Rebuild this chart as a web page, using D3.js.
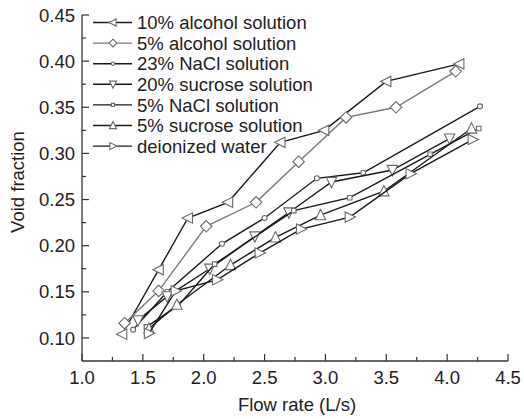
<!DOCTYPE html>
<html>
<head>
<meta charset="utf-8">
<script src="https://cdn.jsdelivr.net/npm/d3@7"></script>
<style>
  body { margin: 0; background: #fff; }
  svg { font-family: "Liberation Sans", Arial, sans-serif; }
</style>
</head>
<body>
<svg id="chart" width="524" height="419"></svg>
<script>
// series values: [flow rate, void fraction]
const alcohol10 = [[1.33,0.104],[1.63,0.174],[1.87,0.230],[2.20,0.247],[2.63,0.312],[2.99,0.325],[3.50,0.378],[4.10,0.397]];
const alcohol5 = [[1.35,0.116],[1.63,0.151],[2.02,0.221],[2.43,0.247],[2.78,0.291],[3.17,0.339],[3.58,0.350],[4.07,0.389]];
const nacl23 = [[1.42,0.109],[1.70,0.150],[2.15,0.202],[2.50,0.230],[2.93,0.273],[3.31,0.279],[4.27,0.351]];
const sucrose20 = [[1.46,0.119],[1.70,0.145],[2.05,0.175],[2.42,0.210],[2.70,0.236],[3.05,0.269],[3.55,0.282],[4.02,0.316]];
const nacl5 = [[1.53,0.112],[1.79,0.135],[2.09,0.180],[2.74,0.238],[3.20,0.252],[3.86,0.299],[4.26,0.327]];
const sucrose5 = [[1.55,0.110],[1.78,0.136],[2.22,0.179],[2.59,0.209],[2.96,0.233],[3.48,0.259],[4.20,0.327]];
const water = [[1.55,0.105],[1.77,0.151],[2.11,0.163],[2.46,0.192],[2.80,0.218],[3.20,0.231],[3.70,0.278],[4.21,0.315]];

const seriesNames = ["10% alcohol solution", "5% alcohol solution", "23% NaCl solution", "20% sucrose solution",
  "5% NaCl solution", "5% sucrose solution", "deionized water"];
const seriesData = [alcohol10, alcohol5, nacl23, sucrose20, nacl5, sucrose5, water];
const seriesMarkers = ["triLeft", "diamond", "circle", "triDown", "square", "triUp", "triRight"];
const lineColors = ["#1a1a1a", "#7a7a7a", "#1a1a1a", "#1a1a1a", "#1a1a1a", "#1a1a1a", "#1a1a1a"];

const xTicks = [1.0, 1.5, 2.0, 2.5, 3.0, 3.5, 4.0, 4.5];
const yTicks = [0.10, 0.15, 0.20, 0.25, 0.30, 0.35, 0.40, 0.45];

const svg = d3.select("#chart");
const margin = { top: 15, right: 16, bottom: 58, left: 82 };
const width = +svg.attr("width");
const height = +svg.attr("height");

const x = d3.scaleLinear().domain([1.0, 4.5]).range([margin.left, width - margin.right]);
const y = d3.scaleLinear().domain([0.075, 0.45]).range([height - margin.bottom, margin.top]);

const axisColor = "#333";
const textColor = "#222";
const fontSize = "18.5px";

// x axis, ticks pointing inward
const xAxis = svg.append("g").attr("transform", `translate(0,${y(0.075)})`);
xAxis.append("line").attr("x1", x(1.0)).attr("x2", x(4.5)).attr("stroke", axisColor).attr("stroke-width", 1.3);
xAxis.selectAll(".minor").data(d3.range(1.25, 4.5, 0.5)).join("line")
  .attr("x1", d => x(d)).attr("x2", d => x(d)).attr("y1", 0).attr("y2", -4)
  .attr("stroke", axisColor).attr("stroke-width", 1.2);
xAxis.selectAll(".major").data(xTicks).join("line")
  .attr("x1", d => x(d)).attr("x2", d => x(d)).attr("y1", 0).attr("y2", -7)
  .attr("stroke", axisColor).attr("stroke-width", 1.2);
xAxis.selectAll("text").data(xTicks).join("text")
  .attr("x", d => x(d)).attr("y", 23)
  .attr("text-anchor", "middle").attr("fill", textColor).style("font-size", fontSize)
  .text(d => d.toFixed(1));

// y axis, ticks pointing inward
const yAxis = svg.append("g").attr("transform", `translate(${x(1.0)},0)`);
yAxis.append("line").attr("y1", y(0.075)).attr("y2", y(0.45)).attr("stroke", axisColor).attr("stroke-width", 1.3);
yAxis.selectAll(".minor").data(d3.range(0.125, 0.45, 0.05)).join("line")
  .attr("y1", d => y(d)).attr("y2", d => y(d)).attr("x1", 0).attr("x2", 4)
  .attr("stroke", axisColor).attr("stroke-width", 1.2);
yAxis.selectAll(".major").data(yTicks).join("line")
  .attr("y1", d => y(d)).attr("y2", d => y(d)).attr("x1", 0).attr("x2", 7)
  .attr("stroke", axisColor).attr("stroke-width", 1.2);
yAxis.selectAll("text").data(yTicks).join("text")
  .attr("x", -7).attr("y", d => y(d)).attr("dy", "0.36em")
  .attr("text-anchor", "end").attr("fill", textColor).style("font-size", fontSize)
  .text(d => d.toFixed(2));

// axis titles
svg.append("text")
  .attr("x", (x(1.0) + x(4.5)) / 2 + 2).attr("y", height - 8)
  .attr("text-anchor", "middle").attr("fill", textColor).style("font-size", fontSize)
  .text("Flow rate (L/s)");
svg.append("text")
  .attr("transform", `translate(24,${(y(0.075) + y(0.45)) / 2 - 6}) rotate(-90)`)
  .attr("text-anchor", "middle").attr("fill", textColor).style("font-size", fontSize)
  .text("Void fraction");

// marker path builder
function markerPath(type, s) {
  const t = s * 1.15;
  switch (type) {
    case "triLeft": return `M${-t},0L${t * 0.8},${-t * 0.9}L${t * 0.8},${t * 0.9}Z`;
    case "triRight": return `M${t},0L${-t * 0.8},${-t * 0.9}L${-t * 0.8},${t * 0.9}Z`;
    case "triUp": return `M0,${-t}L${t * 0.9},${t * 0.8}L${-t * 0.9},${t * 0.8}Z`;
    case "triDown": return `M0,${t}L${t * 0.9},${-t * 0.8}L${-t * 0.9},${-t * 0.8}Z`;
    case "diamond": return `M0,${-t}L${t},0L0,${t}L${-t},0Z`;
    case "square": { const h = s * 0.45; return `M${-h},${-h}H${h}V${h}H${-h}Z`; }
    case "circle": { const r = s * 0.5; return `M${r},0A${r},${r} 0 1,1 ${-r},0A${r},${r} 0 1,1 ${r},0Z`; }
  }
}

const line = d3.line().x(d => x(d[0])).y(d => y(d[1]));

seriesData.forEach((data, i) => {
  const g = svg.append("g");
  g.append("path").datum(data)
    .attr("fill", "none").attr("stroke", lineColors[i]).attr("stroke-width", 1.4)
    .attr("d", line);
  g.selectAll("path.mk").data(data).join("path").attr("class", "mk")
    .attr("transform", d => `translate(${x(d[0])},${y(d[1])})`)
    .attr("d", markerPath(seriesMarkers[i], 5))
    .attr("fill", "#fff").attr("stroke", "#6a6a6a").attr("stroke-width", 1.1);
});

// legend
const legend = svg.append("g").attr("transform", "translate(93,22.5)");
seriesNames.forEach((name, i) => {
  const row = legend.append("g").attr("transform", `translate(0,${i * 20.6})`);
  row.append("line").attr("x1", 0).attr("x2", 39).attr("stroke", lineColors[i]).attr("stroke-width", 1.4);
  row.append("path").attr("transform", "translate(20,0)")
    .attr("d", markerPath(seriesMarkers[i], 3.4))
    .attr("fill", "#fff").attr("stroke", "#6a6a6a").attr("stroke-width", 1.1);
  row.append("text").attr("x", 44).attr("y", 0).attr("dy", "0.36em")
    .attr("fill", textColor).style("font-size", fontSize).text(name);
});
</script>
</body>
</html>
